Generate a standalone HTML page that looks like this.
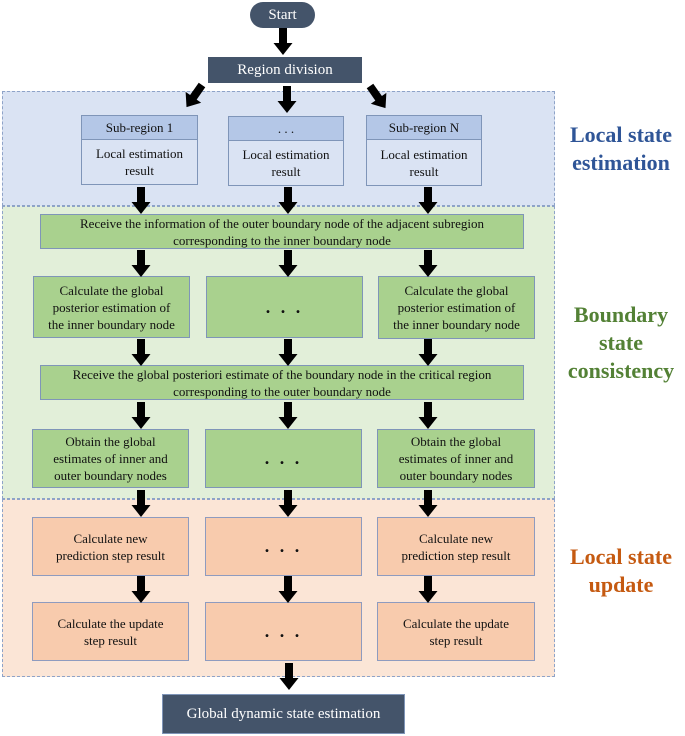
<!DOCTYPE html>
<html><head><style>
body{margin:0;width:685px;height:736px;background:#fff;position:relative;font-family:"Liberation Serif",serif;overflow:hidden}
.a{position:absolute;box-sizing:border-box;display:flex;align-items:center;justify-content:center;text-align:center;font-size:13px;line-height:17px;color:#111}
.g{background:#a9d18e;border:1.5px solid #7f95b8}
.o{background:#f8cbad;border:1.5px solid #8e9bbf}
.h{background:#b4c7e7;border:1.5px solid #7f95b8}
.w{background:#dae3f3;border:1.5px solid #7f95b8}
.d{background:#44546a;color:#fff;font-size:15px}
.p{position:absolute;border:1.5px dashed #8ea3c8;box-sizing:border-box}
.l{position:absolute;font-weight:bold;font-size:22px;line-height:28px;text-align:center}
.dots{font-size:18px;letter-spacing:3px;font-weight:bold}
</style></head><body>
<div class="p" style="left:2px;top:91px;width:553px;height:115px;background:#dae3f3"></div>
<div class="p" style="left:2px;top:206px;width:553px;height:293px;background:#e2efd9"></div>
<div class="p" style="left:2px;top:499px;width:553px;height:178px;background:#fbe5d6"></div>

<div class="a d" style="left:250px;top:2px;width:65px;height:26px;border-radius:13px">Start</div>
<div class="a d" style="left:208px;top:57px;width:154px;height:26px">Region division</div>

<div class="a h" style="left:81px;top:115px;width:117px;height:25px">Sub-region 1</div>
<div class="a w" style="left:81px;top:139px;width:117px;height:46px;background:#dae3f3">Local estimation<br>result</div>
<div class="a h" style="left:228px;top:116px;width:116px;height:25px">. . .</div>
<div class="a w" style="left:228px;top:140px;width:116px;height:46px">Local estimation<br>result</div>
<div class="a h" style="left:366px;top:115px;width:116px;height:25px">Sub-region N</div>
<div class="a w" style="left:366px;top:139px;width:116px;height:47px">Local estimation<br>result</div>

<div class="a g" style="left:40px;top:214px;width:484px;height:35px">Receive the information of the outer boundary node of the adjacent subregion<br>corresponding to the inner boundary node</div>

<div class="a g" style="left:33px;top:276px;width:157px;height:62px">Calculate the global<br>posterior estimation of<br>the inner boundary node</div>
<div class="a g dots" style="left:206px;top:276px;width:157px;height:62px">. . .</div>
<div class="a g" style="left:378px;top:276px;width:157px;height:63px">Calculate the global<br>posterior estimation of<br>the inner boundary node</div>

<div class="a g" style="left:40px;top:365px;width:484px;height:35px">Receive the global posteriori estimate of the boundary node in the critical region<br>corresponding to the outer boundary node</div>

<div class="a g" style="left:32px;top:429px;width:157px;height:59px">Obtain the global<br>estimates of inner and<br>outer boundary nodes</div>
<div class="a g dots" style="left:205px;top:429px;width:157px;height:59px">. . .</div>
<div class="a g" style="left:377px;top:429px;width:158px;height:59px">Obtain the global<br>estimates of inner and<br>outer boundary nodes</div>

<div class="a o" style="left:32px;top:517px;width:157px;height:59px">Calculate new<br>prediction step result</div>
<div class="a o dots" style="left:205px;top:517px;width:157px;height:59px">. . .</div>
<div class="a o" style="left:377px;top:517px;width:158px;height:59px">Calculate new<br>prediction step result</div>
<div class="a o" style="left:32px;top:602px;width:157px;height:59px">Calculate the update<br>step result</div>
<div class="a o dots" style="left:205px;top:602px;width:157px;height:59px">. . .</div>
<div class="a o" style="left:377px;top:602px;width:158px;height:59px">Calculate the update<br>step result</div>

<div class="a d" style="left:162px;top:694px;width:243px;height:40px;border:1.5px solid #7f95b8">Global dynamic state estimation</div>

<div class="l" style="left:557px;top:121px;width:128px;color:#2f5597">Local state<br>estimation</div>
<div class="l" style="left:557px;top:301px;width:128px;color:#538135">Boundary<br>state<br>consistency</div>
<div class="l" style="left:557px;top:543px;width:128px;color:#c55a11">Local state<br>update</div>

<svg width="685" height="736" style="position:absolute;left:0;top:0">
<defs><path id="ar" d="M-4,0 H4 V15 H9.5 L0,27 L-9.5,15 H-4 Z" fill="#000"/></defs>
<use href="#ar" x="283" y="28"/>
<use href="#ar" x="287" y="86"/>
<g transform="translate(202,85) rotate(35)"><use href="#ar"/></g>
<g transform="translate(370,86) rotate(-35)"><use href="#ar"/></g>
<use href="#ar" x="141" y="187"/><use href="#ar" x="288" y="187"/><use href="#ar" x="428" y="187"/>
<use href="#ar" x="141" y="250"/><use href="#ar" x="288" y="250"/><use href="#ar" x="428" y="250"/>
<use href="#ar" x="141" y="339"/><use href="#ar" x="288" y="339"/><use href="#ar" x="428" y="339"/>
<use href="#ar" x="141" y="402"/><use href="#ar" x="288" y="402"/><use href="#ar" x="428" y="402"/>
<use href="#ar" x="141" y="490"/><use href="#ar" x="288" y="490"/><use href="#ar" x="428" y="490"/>
<use href="#ar" x="141" y="576"/><use href="#ar" x="288" y="576"/><use href="#ar" x="428" y="576"/>
<use href="#ar" x="289" y="663"/>
</svg>
</body></html>
